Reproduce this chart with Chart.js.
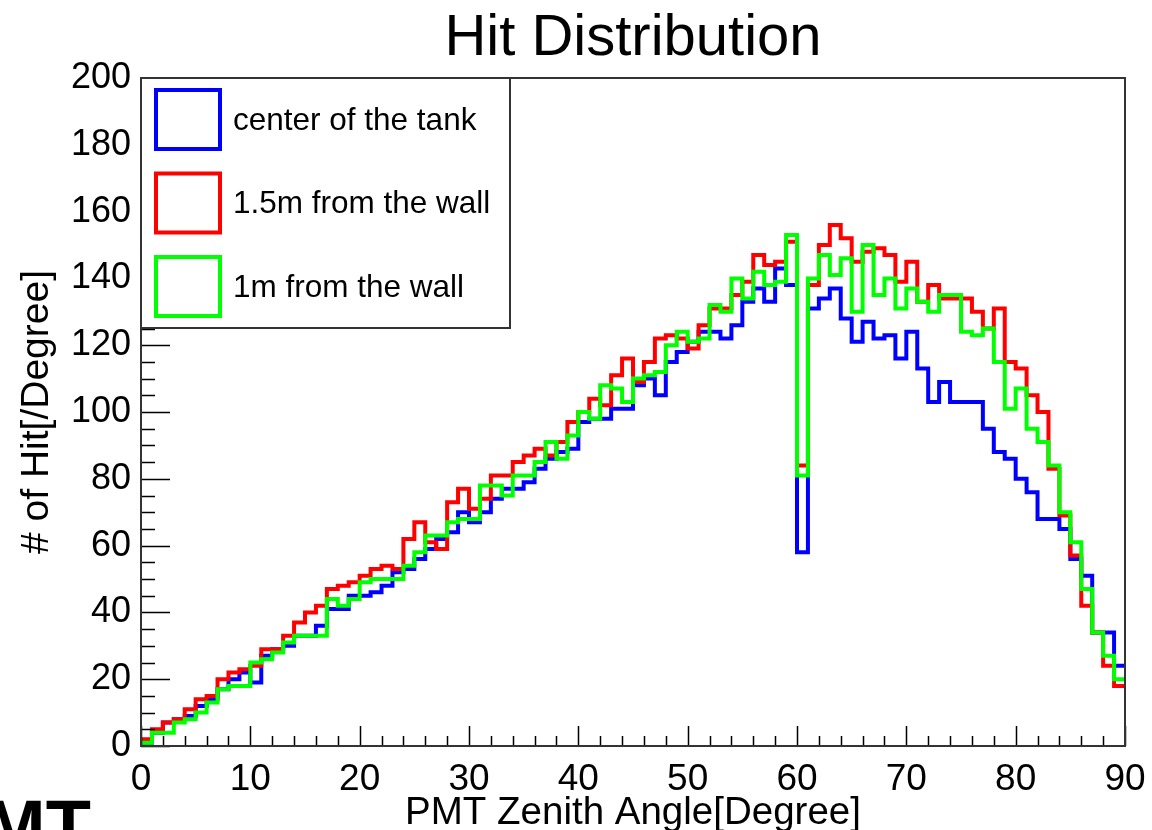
<!DOCTYPE html>
<html>
<head>
<meta charset="utf-8">
<script src="https://cdn.jsdelivr.net/npm/chart.js@4.4.0/dist/chart.umd.min.js"></script>
<style>
    html, body { margin: 0; padding: 0; background: #fff; }
</style>
</head>
<body>
<canvas id="hitChart" width="1152" height="830"></canvas>
<script>
// Texts
const chartTitle = "Hit Distribution";
const xAxisTitle = "PMT Zenith Angle[Degree]";
const yAxisTitle = "# of Hit[/Degree]";
const seriesNames = ["center of the tank", "1.5m from the wall", "1m from the wall"];

// Axis ticks
const xTickValues = [0, 10, 20, 30, 40, 50, 60, 70, 80, 90];
const yTickValues = [0, 20, 40, 60, 80, 100, 120, 140, 160, 180, 200];

// Bins are 1 degree wide, lower edge of each bin
const binLow = Array.from({ length: 90 }, (_, i) => i);

// Hits per bin
const centerHits = [
    1, 4, 7, 8, 9, 12, 14, 17, 20, 22,
    19, 27, 29, 30, 33, 33, 36, 41, 41, 45,
    45, 46, 48, 52, 53, 56, 59, 62, 64, 70,
    67, 70, 74, 77, 77, 79, 83, 86, 88, 89,
    97, 98, 98, 101, 101, 108, 110, 105, 115, 118,
    121, 124, 124, 122, 126, 133, 137, 133, 143, 138,
    58, 131, 134, 137, 128, 121, 127, 122, 123, 116,
    124, 113, 103, 109, 103, 103, 103, 95, 88, 86,
    80, 76, 68, 68, 65, 56, 51, 34, 34, 24
];
const wall15Hits = [
    2, 5, 7, 8, 11, 14, 15, 20, 22, 23,
    24, 29, 29, 33, 37, 40, 42, 47, 48, 49,
    51, 53, 54, 53, 62, 67, 61, 59, 73, 77,
    71, 74, 81, 81, 85, 87, 89, 87, 91, 97,
    100, 104, 102, 111, 116, 109, 115, 122, 123, 122,
    119, 126, 131, 131, 135, 139, 147, 144, 145, 151,
    84, 138, 150, 156, 152, 145, 148, 149, 147, 139,
    145, 133, 138, 134, 134, 134, 130, 125, 131, 115,
    113, 105, 100, 83, 69, 57, 42, 34, 24, 18
];
const wall10Hits = [
    1, 4, 4, 7, 8, 10, 13, 17, 18, 18,
    25, 26, 28, 31, 33, 33, 33, 44, 42, 44,
    49, 50, 50, 50, 54, 58, 63, 63, 67, 68,
    68, 78, 78, 75, 81, 81, 85, 91, 86, 93,
    100, 98, 108, 107, 103, 110, 111, 112, 120, 124,
    121, 122, 132, 130, 140, 134, 142, 138, 139, 153,
    81, 140, 147, 141, 146, 130, 150, 135, 140, 131,
    137, 133, 130, 135, 135, 124, 123, 125, 115, 101,
    107, 95, 91, 84, 70, 61, 47, 34, 27, 20
];

const seriesColors = ["#0000ff", "#ff0000", "#00ff00"];
const fontFamily = "'Liberation Sans', Arial, Helvetica, sans-serif";

Chart.defaults.font.family = fontFamily;
Chart.defaults.color = "#000";

/**
 * Turn bin values into step points, closing the last bin at its upper edge
 *
 * @param {number[]} values hits per bin
 */
function toSteps(values) {
    const points = values.map((v, i) => ({ x: binLow[i], y: v }));
    points.push({ x: binLow[binLow.length - 1] + 1, y: values[values.length - 1] });
    return points;
}

// ROOT style frame with ticks pointing inside
const frameTicks = {
    id: "frameTicks",
    afterDatasetsDraw(chart) {
        const { ctx, chartArea } = chart;
        const xs = chart.scales.x;
        const ys = chart.scales.y;
        ctx.save();
        ctx.strokeStyle = "#000";
        ctx.lineWidth = 1.5;
        ctx.beginPath();
        for (let v = xs.min; v <= xs.max; v += 2) {
            const px = Math.round(xs.getPixelForValue(v)) + 0.5;
            const len = v % 10 === 0 ? 20 : 10;
            ctx.moveTo(px, chartArea.bottom);
            ctx.lineTo(px, chartArea.bottom - len);
        }
        for (let v = ys.min; v <= ys.max; v += 5) {
            const py = Math.round(ys.getPixelForValue(v)) + 0.5;
            const len = v % 20 === 0 ? 29 : 14;
            ctx.moveTo(chartArea.left, py);
            ctx.lineTo(chartArea.left + len, py);
        }
        ctx.stroke();

        ctx.strokeStyle = "#333";
        ctx.lineWidth = 2;
        ctx.strokeRect(chartArea.left, chartArea.top, chartArea.right - chartArea.left, chartArea.bottom - chartArea.top);
        ctx.restore();
    }
};

// Legend box in the top left corner of the frame
const legendBox = {
    id: "legendBox",
    afterDraw(chart) {
        const { ctx, chartArea } = chart;
        const left = chartArea.left;
        const top = chartArea.top;
        ctx.save();
        ctx.fillStyle = "#fff";
        ctx.fillRect(left, top, 369, 250);
        ctx.strokeStyle = "#333";
        ctx.lineWidth = 2;
        ctx.strokeRect(left, top, 369, 250);

        chart.data.datasets.forEach((ds, i) => {
            const boxTop = top + 12 + i * 83.5;
            ctx.strokeStyle = ds.borderColor;
            ctx.lineWidth = 4;
            ctx.strokeRect(left + 15, boxTop, 64, 59);

            ctx.fillStyle = "#000";
            ctx.font = "31.5px " + fontFamily;
            ctx.textBaseline = "middle";
            ctx.textAlign = "left";
            ctx.fillText(ds.label, left + 92, boxTop + 31);
        });
        ctx.restore();
    }
};

// Cut off letters of a neighbouring slide at the bottom left corner
const edgeText = {
    id: "edgeText",
    afterDraw(chart) {
        const { ctx } = chart;
        ctx.save();
        ctx.fillStyle = "#000";
        ctx.font = "bold 74px " + fontFamily;
        ctx.textBaseline = "alphabetic";
        ctx.textAlign = "left";
        ctx.fillText("MT", -16, 852);
        ctx.restore();
    }
};

const ctx = document.getElementById("hitChart").getContext("2d");

const hitChart = new Chart(ctx, {
    type: "line",
    data: {
        datasets: [
            { label: seriesNames[0], data: toSteps(centerHits), borderColor: seriesColors[0], order: 2 },
            { label: seriesNames[1], data: toSteps(wall15Hits), borderColor: seriesColors[1], order: 1 },
            { label: seriesNames[2], data: toSteps(wall10Hits), borderColor: seriesColors[2], order: 0 }
        ]
    },
    options: {
        responsive: false,
        animation: false,
        elements: {
            line: { stepped: true, borderWidth: 4, fill: false, borderJoinStyle: "miter", borderCapStyle: "butt", tension: 0 },
            point: { radius: 0, hoverRadius: 0 }
        },
        layout: { padding: { top: 0, right: 27, bottom: 0, left: 0 } },
        scales: {
            x: {
                type: "linear",
                min: 0,
                max: 90,
                afterBuildTicks: s => { s.ticks = xTickValues.map(v => ({ value: v })); },
                afterFit: s => { s.height = 84; s.paddingRight = 20; },
                ticks: { font: { size: 37 }, color: "#000", padding: 12, maxRotation: 0, autoSkip: false },
                grid: { display: false, drawTicks: false },
                border: { display: true, color: "#000", width: 2 },
                title: { display: true, text: xAxisTitle, font: { size: 38.5, lineHeight: 0.8 }, color: "#000", padding: { top: 0, bottom: 1 } }
            },
            y: {
                min: 0,
                max: 200,
                afterBuildTicks: s => { s.ticks = yTickValues.map(v => ({ value: v })); },
                afterFit: s => { s.width = 141; },
                ticks: { font: { size: 36 }, color: "#000", padding: 10, autoSkip: false },
                grid: { display: false, drawTicks: false },
                border: { display: true, color: "#000", width: 2 },
                title: { display: true, text: yAxisTitle, font: { size: 39, lineHeight: 1 }, color: "#000", padding: { top: 18, bottom: 0 } }
            }
        },
        plugins: {
            legend: { display: false },
            tooltip: { enabled: false },
            title: {
                display: true,
                text: chartTitle,
                fullSize: false,
                color: "#000",
                font: { size: 58, weight: "normal", lineHeight: 1 },
                padding: { top: 10, bottom: 10 }
            }
        }
    },
    plugins: [frameTicks, legendBox, edgeText]
});
</script>
</body>
</html>
